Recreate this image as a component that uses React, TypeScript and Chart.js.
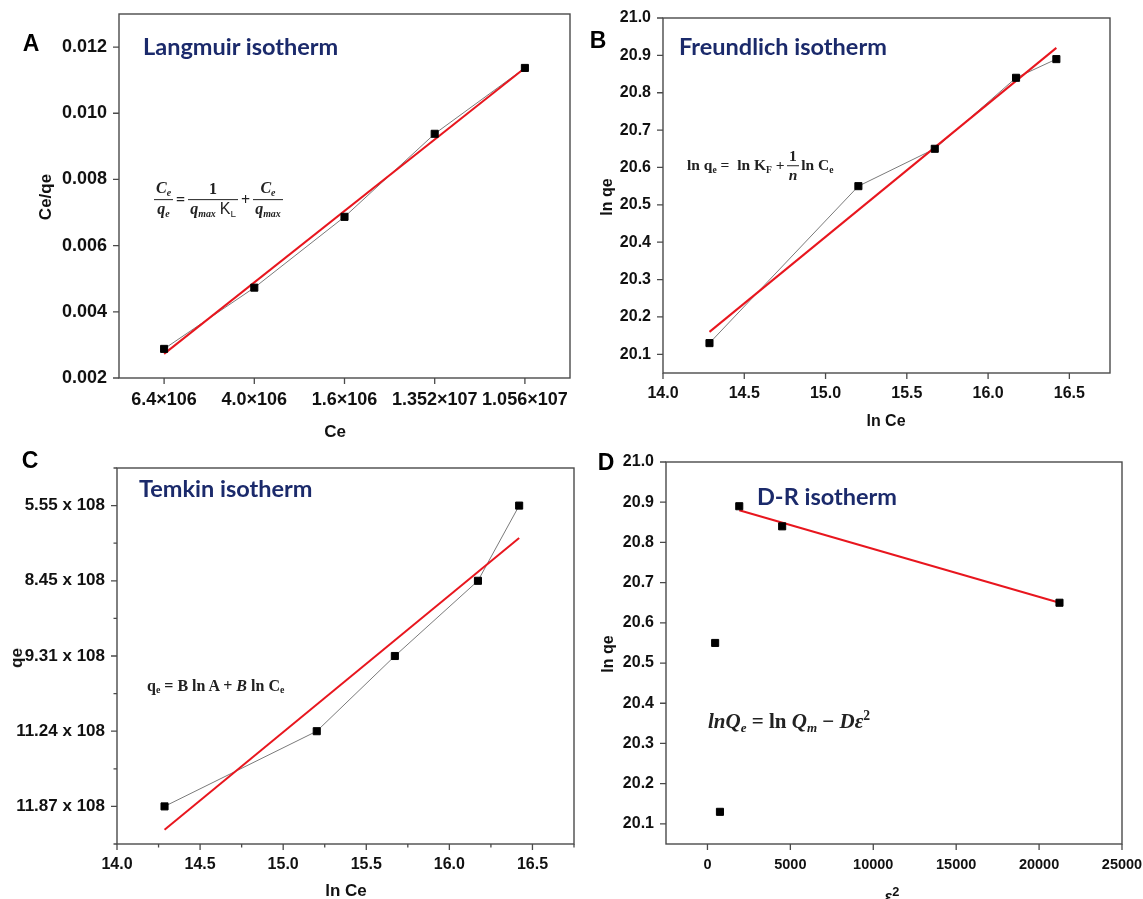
import React, { useEffect, useRef } from 'react';
import { Chart, registerables } from 'chart.js';

Chart.register(...registerables);

// ---------------- data ----------------
// A: Langmuir
const langmuirCe = ['6.4×106', '4.0×106', '1.6×106', '1.352×107', '1.056×107'];
const langmuirCeQe = [0.00288, 0.00473, 0.00687, 0.00938, 0.01137];
const langmuirFitCe = ['6.4×106', '1.056×107'];
const langmuirFitCeQe = [0.00273, 0.01137];

// B: Freundlich
const lnCe = [14.286, 15.202, 15.672, 16.172, 16.42];
const freundlichLnQe = [20.13, 20.55, 20.65, 20.84, 20.89];
const freundlichFitLnCe = [14.286, 16.42];
const freundlichFitLnQe = [20.16, 20.92];

// C: Temkin (y axis carries the qe labels in this order, bottom to top)
const temkinQeTickLabels = ['11.87 x 108', '11.24 x 108', '9.31 x 108', '8.45 x 108', '5.55 x 108'];
const temkinQe = ['11.87 x 108', '11.24 x 108', '9.31 x 108', '8.45 x 108', '5.55 x 108'];
const temkinFitLnCe = [14.286, 16.42];
const temkinFitPos = [-0.31, 3.57];

// D: Dubinin-Radushkevich
const drEps2 = [754, 464, 21230, 4505, 1918];
const drLnQe = [20.13, 20.55, 20.65, 20.84, 20.89];
const drFitEps2 = [1918, 21230];
const drFitLnQe = [20.88, 20.65];
const drEps2Ticks = [0, 5000, 10000, 15000, 20000, 25000];

// ---------------- style ----------------
const FONT = "'Liberation Sans', Arial, Helvetica, sans-serif";
const TITLE_FONT = "Lato, 'Open Sans', sans-serif";
const SERIF = "'Liberation Serif', 'Times New Roman', serif";
const NAVY = '#1b2a6b';
const RED = '#e8161e';
const GRAY = '#7a7a7a';
const FRAME = '#4a4a4a';

type Box = { left: number; top: number; width: number; height: number; l: number; t: number; r: number; b: number };

// canvas rectangle (left, top, width, height) and wanted plot area (l, t, r, b), page coordinates
const boxA: Box = { left: 0, top: -30, width: 590, height: 475, l: 119, t: 14, r: 570, b: 378 };
const boxB: Box = { left: 580, top: -30, width: 563, height: 475, l: 663, t: 18, r: 1110, b: 373 };
const boxC: Box = { left: 0, top: 420, width: 590, height: 479, l: 117, t: 468, r: 574, b: 844 };
const boxD: Box = { left: 580, top: 420, width: 575, height: 479, l: 666, t: 462, r: 1122, b: 844 };

const isMult = (v: number, step: number) => Math.abs(v / step - Math.round(v / step)) < 1e-6;
const always = () => true;

// frame around the plot area + outward tick marks (major 6px, minor 3.5px)
function framePlugin(majorX: (v: number) => boolean, majorY: (v: number) => boolean) {
  return {
    id: 'frameTicks',
    afterDraw(chart: any) {
      const { ctx, chartArea } = chart;
      const { left, top, right, bottom } = chartArea;
      const xs = chart.scales.x;
      const ys = chart.scales.y;
      ctx.save();
      ctx.strokeStyle = FRAME;
      ctx.lineWidth = 1.4;
      ctx.strokeRect(left, top, right - left, bottom - top);
      ctx.lineWidth = 1.3;
      ctx.beginPath();
      xs.ticks.forEach((t: any, i: number) => {
        const px = xs.getPixelForTick(i);
        const len = majorX(t.value) ? 6 : 3.5;
        ctx.moveTo(px, bottom);
        ctx.lineTo(px, bottom + len);
      });
      ys.ticks.forEach((t: any, i: number) => {
        const py = ys.getPixelForTick(i);
        const len = majorY(t.value) ? 6 : 3.5;
        ctx.moveTo(left, py);
        ctx.lineTo(left - len, py);
      });
      ctx.stroke();
      ctx.restore();
    },
  };
}

function axis(fontSize: number, padding: number, extra: any = {}) {
  const { ticks, ...rest } = extra;
  return {
    border: { display: false },
    // tick marks are drawn by framePlugin; these invisible ones only reserve the label offset
    grid: { display: true, drawOnChartArea: false, drawTicks: true, tickLength: 6, tickColor: 'rgba(0,0,0,0)' },
    ticks: {
      color: '#111',
      font: { family: FONT, size: fontSize, weight: 'bold' },
      padding,
      autoSkip: false,
      maxRotation: 0,
      minRotation: 0,
      ...(ticks || {}),
    },
    ...rest,
  };
}

function options(box: Box, x: any, y: any) {
  return {
    responsive: false,
    animation: false,
    events: [],
    layout: {
      padding: { left: 0, top: box.t - box.top, right: box.left + box.width - box.r, bottom: 0 },
    },
    plugins: { legend: { display: false }, tooltip: { enabled: false }, title: { display: false } },
    scales: {
      x: { ...x, afterFit: (s: any) => { s.height = box.top + box.height - box.b; } },
      y: { ...y, afterFit: (s: any) => { s.width = box.l - box.left; } },
    },
  };
}

const pointsDs = (data: any[]) => ({
  data,
  showLine: false,
  pointStyle: 'rect',
  pointRadius: 5,
  pointBorderWidth: 1,
  pointBackgroundColor: '#000',
  pointBorderColor: '#000',
  borderColor: '#000',
  order: 0,
});
const fitDs = (data: any[]) => ({
  data,
  showLine: true,
  borderColor: RED,
  borderWidth: 2,
  pointRadius: 0,
  order: 1,
});
const grayDs = (data: any[]) => ({
  data,
  showLine: true,
  borderColor: GRAY,
  borderWidth: 1,
  pointRadius: 0,
  order: 2,
});

const zip = (xs: any[], ys: any[]) => xs.map((x, i) => ({ x, y: ys[i] }));

function makeA(canvas: HTMLCanvasElement) {
  const pts = zip(langmuirCe, langmuirCeQe);
  return new Chart(canvas, {
    type: 'line',
    data: {
      labels: langmuirCe,
      datasets: [pointsDs(pts), fitDs(zip(langmuirFitCe, langmuirFitCeQe)), grayDs(pts)] as any,
    },
    options: options(
      boxA,
      axis(18, 5, { type: 'category', offset: true }),
      axis(18, 6, {
        type: 'linear', min: 0.002, max: 0.013,
        ticks: { stepSize: 0.002, includeBounds: false, callback: (v: number) => v.toFixed(3) },
      }),
    ) as any,
    plugins: [framePlugin(always, always)],
  });
}

function makeB(canvas: HTMLCanvasElement) {
  const pts = zip(lnCe, freundlichLnQe);
  return new Chart(canvas, {
    type: 'scatter',
    data: { datasets: [pointsDs(pts), fitDs(zip(freundlichFitLnCe, freundlichFitLnQe)), grayDs(pts)] as any },
    options: options(
      boxB,
      axis(16, 5, { type: 'linear', min: 14, max: 16.75, ticks: { stepSize: 0.5, includeBounds: false, callback: (v: number) => v.toFixed(1) } }),
      axis(16, 6, { type: 'linear', min: 20.05, max: 21.0, ticks: { stepSize: 0.1, includeBounds: false, callback: (v: number) => v.toFixed(1) } }),
    ) as any,
    plugins: [framePlugin(always, always)],
  });
}

function makeC(canvas: HTMLCanvasElement) {
  const pts = lnCe.map((x, i) => ({ x, y: temkinQeTickLabels.indexOf(temkinQe[i]) }));
  return new Chart(canvas, {
    type: 'scatter',
    data: { datasets: [pointsDs(pts), fitDs(zip(temkinFitLnCe, temkinFitPos)), grayDs(pts)] as any },
    options: options(
      boxC,
      axis(16, 5, {
        type: 'linear', min: 14, max: 16.75,
        ticks: { stepSize: 0.25, includeBounds: false, callback: (v: number) => (isMult(v, 0.5) ? v.toFixed(1) : '') },
      }),
      axis(17, 6, {
        type: 'linear', min: -0.5, max: 4.5,
        ticks: {
          stepSize: 0.5, includeBounds: false,
          callback: (v: number) => (isMult(v, 1) ? temkinQeTickLabels[Math.round(v)] ?? '' : ''),
        },
      }),
    ) as any,
    plugins: [framePlugin((v) => isMult(v, 0.5), (v) => isMult(v, 1))],
  });
}

function makeD(canvas: HTMLCanvasElement) {
  const pts = zip(drEps2, drLnQe);
  return new Chart(canvas, {
    type: 'scatter',
    data: { datasets: [pointsDs(pts), fitDs(zip(drFitEps2, drFitLnQe))] as any },
    options: options(
      boxD,
      axis(14.5, 6, {
        type: 'linear', min: -2500, max: 25000,
        afterBuildTicks: (s: any) => { s.ticks = drEps2Ticks.map((value) => ({ value })); },
        ticks: { callback: (v: number) => String(v) },
      }),
      axis(16, 6, { type: 'linear', min: 20.05, max: 21.0, ticks: { stepSize: 0.1, includeBounds: false, callback: (v: number) => v.toFixed(1) } }),
    ) as any,
    plugins: [framePlugin(always, always)],
  });
}

// ---------------- text helpers ----------------
const at = (x: number, y: number, style: any = {}): any => ({
  position: 'absolute', left: x, top: y, whiteSpace: 'nowrap', lineHeight: 1, ...style,
});

const Sub = ({ children, style }: any) => (
  <span style={{ fontSize: '0.62em', verticalAlign: '-0.3em', ...style }}>{children}</span>
);

const Frac = ({ num, den }: any) => (
  <span style={{ display: 'inline-flex', flexDirection: 'column', alignItems: 'stretch', verticalAlign: 'middle', margin: '0 2px', textAlign: 'center' }}>
    <span style={{ padding: '0 2px 1px', lineHeight: 1.05 }}>{num}</span>
    <span style={{ borderTop: '1px solid #222', padding: '1px 2px 0', lineHeight: 1.05 }}>{den}</span>
  </span>
);

const Letter = ({ x, y, children }: any) => (
  <div style={at(x, y, { transform: 'translate(-50%,-50%)', font: `bold 23px ${FONT}`, color: '#000' })}>{children}</div>
);
const PanelTitle = ({ x, y, children }: any) => (
  <div style={at(x, y, { transform: 'translateY(-50%)', font: `700 23.5px ${TITLE_FONT}`, color: NAVY })}>{children}</div>
);
const AxisTitle = ({ x, y, size = 16, rotate = false, children }: any) => (
  <div style={at(x, y, { transform: `translate(-50%,-50%)${rotate ? ' rotate(-90deg)' : ''}`, font: `bold ${size}px ${FONT}`, color: '#111' })}>{children}</div>
);

export default function App() {
  const refA = useRef<HTMLCanvasElement>(null);
  const refB = useRef<HTMLCanvasElement>(null);
  const refC = useRef<HTMLCanvasElement>(null);
  const refD = useRef<HTMLCanvasElement>(null);

  useEffect(() => {
    const charts = [
      makeA(refA.current!),
      makeB(refB.current!),
      makeC(refC.current!),
      makeD(refD.current!),
    ];
    return () => charts.forEach((c) => c.destroy());
  }, []);

  const cv = (box: Box, ref: any) => (
    <canvas
      ref={ref}
      width={box.width}
      height={box.height}
      style={{ position: 'absolute', left: box.left, top: box.top, width: box.width, height: box.height }}
    />
  );

  return (
    <div style={{ position: 'absolute', left: 0, top: 0, width: 1143, height: 899, overflow: 'hidden', background: '#fff' }}>
      {cv(boxA, refA)}
      {cv(boxB, refB)}
      {cv(boxC, refC)}
      {cv(boxD, refD)}

      {/* panel letters */}
      <Letter x={31} y={43}>A</Letter>
      <Letter x={598} y={40}>B</Letter>
      <Letter x={30} y={460}>C</Letter>
      <Letter x={606} y={462}>D</Letter>

      {/* panel titles */}
      <PanelTitle x={143} y={46}>Langmuir isotherm</PanelTitle>
      <PanelTitle x={679} y={46}>Freundlich isotherm</PanelTitle>
      <PanelTitle x={139} y={488}>Temkin isotherm</PanelTitle>
      <PanelTitle x={757} y={496}>D-R isotherm</PanelTitle>

      {/* axis titles */}
      <AxisTitle x={46} y={197} size={17} rotate>Ce/qe</AxisTitle>
      <AxisTitle x={335} y={432} size={17}>Ce</AxisTitle>
      <AxisTitle x={607} y={197} rotate>ln qe</AxisTitle>
      <AxisTitle x={886} y={421}>ln Ce</AxisTitle>
      <AxisTitle x={17} y={658} size={17} rotate>qe</AxisTitle>
      <AxisTitle x={346} y={891} size={17}>ln Ce</AxisTitle>
      <AxisTitle x={608} y={654} rotate>ln qe</AxisTitle>
      <div style={at(892, 884, { transform: 'translateX(-50%)', font: `bold 16px ${FONT}`, color: '#111', lineHeight: 1.2 })}>
        ε<sup style={{ fontSize: '0.8em', verticalAlign: '0.5em' }}>2</sup>
      </div>

      {/* equations */}
      <div style={at(152, 200, { transform: 'translateY(-50%)', font: `bold 16px ${SERIF}`, color: '#222', display: 'flex', alignItems: 'center' })}>
        <Frac num={<i>C<Sub>e</Sub></i>} den={<i>q<Sub>e</Sub></i>} />
        <span style={{ margin: '0 1px' }}>=</span>
        <Frac num={<span>1</span>} den={<span><i>q<Sub>max</Sub></i> <span style={{ fontFamily: FONT, fontWeight: 'normal' }}>K<Sub>L</Sub></span></span>} />
        <span style={{ margin: '0 1px' }}>+</span>
        <Frac num={<i>C<Sub>e</Sub></i>} den={<i>q<Sub>max</Sub></i>} />
      </div>

      <div style={at(687, 166, { transform: 'translateY(-50%)', font: `bold 15.5px ${SERIF}`, color: '#222', display: 'flex', alignItems: 'center' })}>
        <span>ln q<Sub>e</Sub>&nbsp;=&nbsp; ln K<Sub>F</Sub> +</span>
        <Frac num={<span>1</span>} den={<i>n</i>} />
        <span>ln C<Sub>e</Sub></span>
      </div>

      <div style={at(147, 686, { transform: 'translateY(-50%)', font: `bold 16px ${SERIF}`, color: '#222' })}>
        q<Sub>e</Sub>&nbsp;= B ln A + <i>B</i> ln C<Sub>e</Sub>
      </div>

      <div style={at(708, 722, { transform: 'translateY(-50%)', font: `bold 21px ${SERIF}`, color: '#222' })}>
        <i>lnQ<Sub>e</Sub></i> = ln <i>Q<Sub>m</Sub></i> − <i>Dε</i><sup style={{ fontSize: '0.65em', verticalAlign: '0.6em' }}>2</sup>
      </div>
    </div>
  );
}
